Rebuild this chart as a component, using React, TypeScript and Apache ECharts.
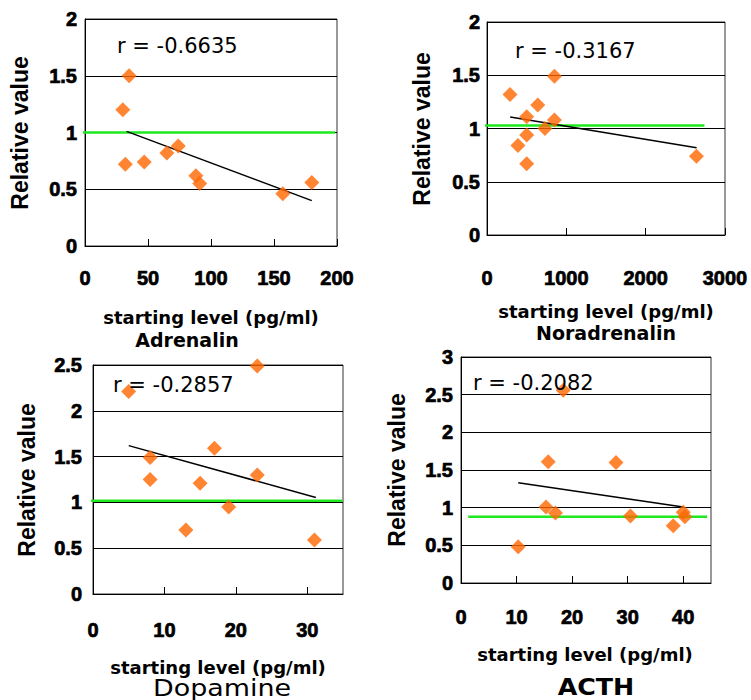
import React, { useEffect, useRef } from "react";
import * as echarts from "echarts";

// ---- data ----
const adrX = [35, 30, 32, 47, 65, 74, 88, 91, 157, 180];
const adrY = [1.5, 1.2, 0.72, 0.74, 0.82, 0.88, 0.62, 0.55, 0.46, 0.56];
const adrTrend = [[33, 1.01], [180, 0.4]];
const adrRef = [[-4, 1.0], [198.5, 1.0]];

const noraX = [290, 850, 640, 500, 850, 730, 500, 390, 500, 2640];
const noraY = [1.32, 1.49, 1.22, 1.11, 1.08, 1.0, 0.94, 0.84, 0.67, 0.74];
const noraTrend = [[292, 1.107], [2642, 0.82]];
const noraRef = [[-250, 1.028], [2741, 1.028]];

const dopaX = [5, 23, 8, 8, 17, 15, 23, 19, 13, 31];
const dopaY = [2.21, 2.49, 1.49, 1.25, 1.59, 1.21, 1.3, 0.95, 0.7, 0.59];
const dopaTrend = [[5, 1.62], [31.2, 1.054]];
const dopaRef = [[-1.6, 1.017], [34.9, 1.017]];

const acthX = [18.4, 15.7, 27.9, 15.3, 17.0, 30.5, 40.0, 40.3, 38.2, 10.3];
const acthY = [2.56, 1.61, 1.6, 1.01, 0.93, 0.89, 0.94, 0.88, 0.76, 0.48];
const acthTrend = [[10.3, 1.33], [40, 1.01]];
const acthRef = [[1.3, 0.88], [44.3, 0.88]];

const rLabels = ["r = -0.6635", "r = -0.3167", "r = -0.2857", "r = -0.2082"];
const hormoneNames = ["Adrenalin", "Noradrenalin", "Dopamine", "ACTH"];
const xTitle = "starting level (pg/ml)";
const yTitle = "Relative value";

const xRanges = [
  { max: 200, interval: 50 },
  { max: 3000, interval: 1000 },
  { max: 35, interval: 10 },
  { max: 45, interval: 10 },
];
const yRanges = [
  { max: 2, interval: 0.5 },
  { max: 2, interval: 0.5 },
  { max: 2.5, interval: 0.5 },
  { max: 3, interval: 0.5 },
];

const panels = [
  { xs: adrX, ys: adrY, trend: adrTrend, ref: adrRef },
  { xs: noraX, ys: noraY, trend: noraTrend, ref: noraRef },
  { xs: dopaX, ys: dopaY, trend: dopaTrend, ref: dopaRef },
  { xs: acthX, ys: acthY, trend: acthTrend, ref: acthRef },
];

// ---- layout ----
const grids = [
  { left: 85, top: 19, width: 252, height: 227 },
  { left: 487, top: 22, width: 238, height: 213 },
  { left: 93, top: 365, width: 250, height: 229 },
  { left: 461, top: 357, width: 250, height: 226 },
];
const xLabelMargin = [22, 33, 26, 24];
const yLabelMargin = [8, 7, 11, 8];
const yTitlePos = [[20, 133], [422, 129], [27, 480], [397, 470]];
const xTitlePos = [[211, 317], [606, 311], [218, 667], [585, 654]];
const rPos = [[117, 46], [515, 51], [113, 385], [473, 383]];

const tickFont = "Liberation Sans, Arial, sans-serif";
const textFont = "DejaVu Sans, sans-serif";

export default function App() {
  const ref = useRef<HTMLDivElement>(null);
  useEffect(() => {
    document.body.style.margin = "0";
    if (!ref.current) return;
    const chart = echarts.init(ref.current, null, { renderer: "svg" });

    const labelStyle = {
      fontFamily: tickFont,
      fontWeight: "bold",
      fontSize: 20,
      color: "#000",
      textBorderColor: "#000",
      textBorderWidth: 0.7,
    };

    const xAxis = xRanges.map((r, i) => ({
      type: "value",
      gridIndex: i,
      min: 0,
      max: r.max,
      interval: r.interval,
      axisLine: { show: true, lineStyle: { color: "#000", width: 1 } },
      axisTick: { show: true, inside: true, length: 7, lineStyle: { color: "#000" } },
      splitLine: { show: false },
      axisLabel: {
        ...labelStyle,
        margin: xLabelMargin[i],
        showMaxLabel: r.max % r.interval === 0,
        formatter: (v: number) => String(v),
      },
    }));
    const yAxis = yRanges.map((r, i) => ({
      type: "value",
      gridIndex: i,
      min: 0,
      max: r.max,
      interval: r.interval,
      axisLine: { show: true, lineStyle: { color: "#000", width: 1 } },
      axisTick: { show: false },
      splitLine: { show: true, lineStyle: { color: "#000", width: 1 } },
      axisLabel: {
        ...labelStyle,
        margin: yLabelMargin[i],
        formatter: (v: number) => String(v),
      },
    }));

    const series: any[] = [];
    panels.forEach((p, i) => {
      series.push({
        type: "line",
        xAxisIndex: i,
        yAxisIndex: i,
        data: p.ref,
        showSymbol: false,
        symbol: "none",
        clip: false,
        lineStyle: { color: "#1ee81e", width: 2.5 },
        z: 3,
      });
      series.push({
        type: "line",
        xAxisIndex: i,
        yAxisIndex: i,
        data: p.trend,
        symbol: "none",
        lineStyle: { color: "#000", width: 1.5 },
        z: 4,
      });
      series.push({
        type: "scatter",
        xAxisIndex: i,
        yAxisIndex: i,
        data: p.xs.map((x, k) => [x, p.ys[k]]),
        symbol: "diamond",
        symbolSize: 15,
        itemStyle: { color: "#ff6600" },
        z: 5,
      });
    });

    const txt = (x: number, y: number, text: string, fontSize: number, fontWeight: string, fontFamily: string, extra: any = {}) => {
      const { align, ...rest } = extra;
      return {
        type: "text",
        x,
        y,
        z: 10,
        ...rest,
        style: {
          text,
          fontSize,
          fontWeight,
          fontFamily,
          fill: "#000",
          textAlign: align || "center",
          textVerticalAlign: "middle",
        },
      };
    };

    const graphic: any[] = [];
    for (let i = 0; i < 4; i++) {
      graphic.push(txt(yTitlePos[i][0], yTitlePos[i][1], yTitle, 23, "bold", tickFont, { rotation: Math.PI / 2 }));
      graphic.push(txt(xTitlePos[i][0], xTitlePos[i][1], xTitle, 18, "bold", textFont));
      graphic.push(txt(rPos[i][0], rPos[i][1], rLabels[i], 21, "normal", textFont, { align: "left" }));
    }
    graphic.push(txt(187, 340, hormoneNames[0], 19, "bold", textFont));
    graphic.push(txt(606, 333, hormoneNames[1], 19, "bold", textFont));
    graphic.push(txt(222, 688, hormoneNames[2], 23, "normal", textFont, { scaleX: 1.17 }));
    graphic.push(txt(596, 687, hormoneNames[3], 23, "bold", textFont, { scaleX: 1.1 }));

    chart.setOption({
      animation: false,
      backgroundColor: "#fff",
      grid: grids.map((g) => ({ ...g, show: true, borderColor: "#333", borderWidth: 1, backgroundColor: "transparent" })),
      xAxis,
      yAxis,
      series,
      graphic,
    });
    return () => chart.dispose();
  }, []);
  return <div ref={ref} style={{ width: 751, height: 700 }} />;
}
